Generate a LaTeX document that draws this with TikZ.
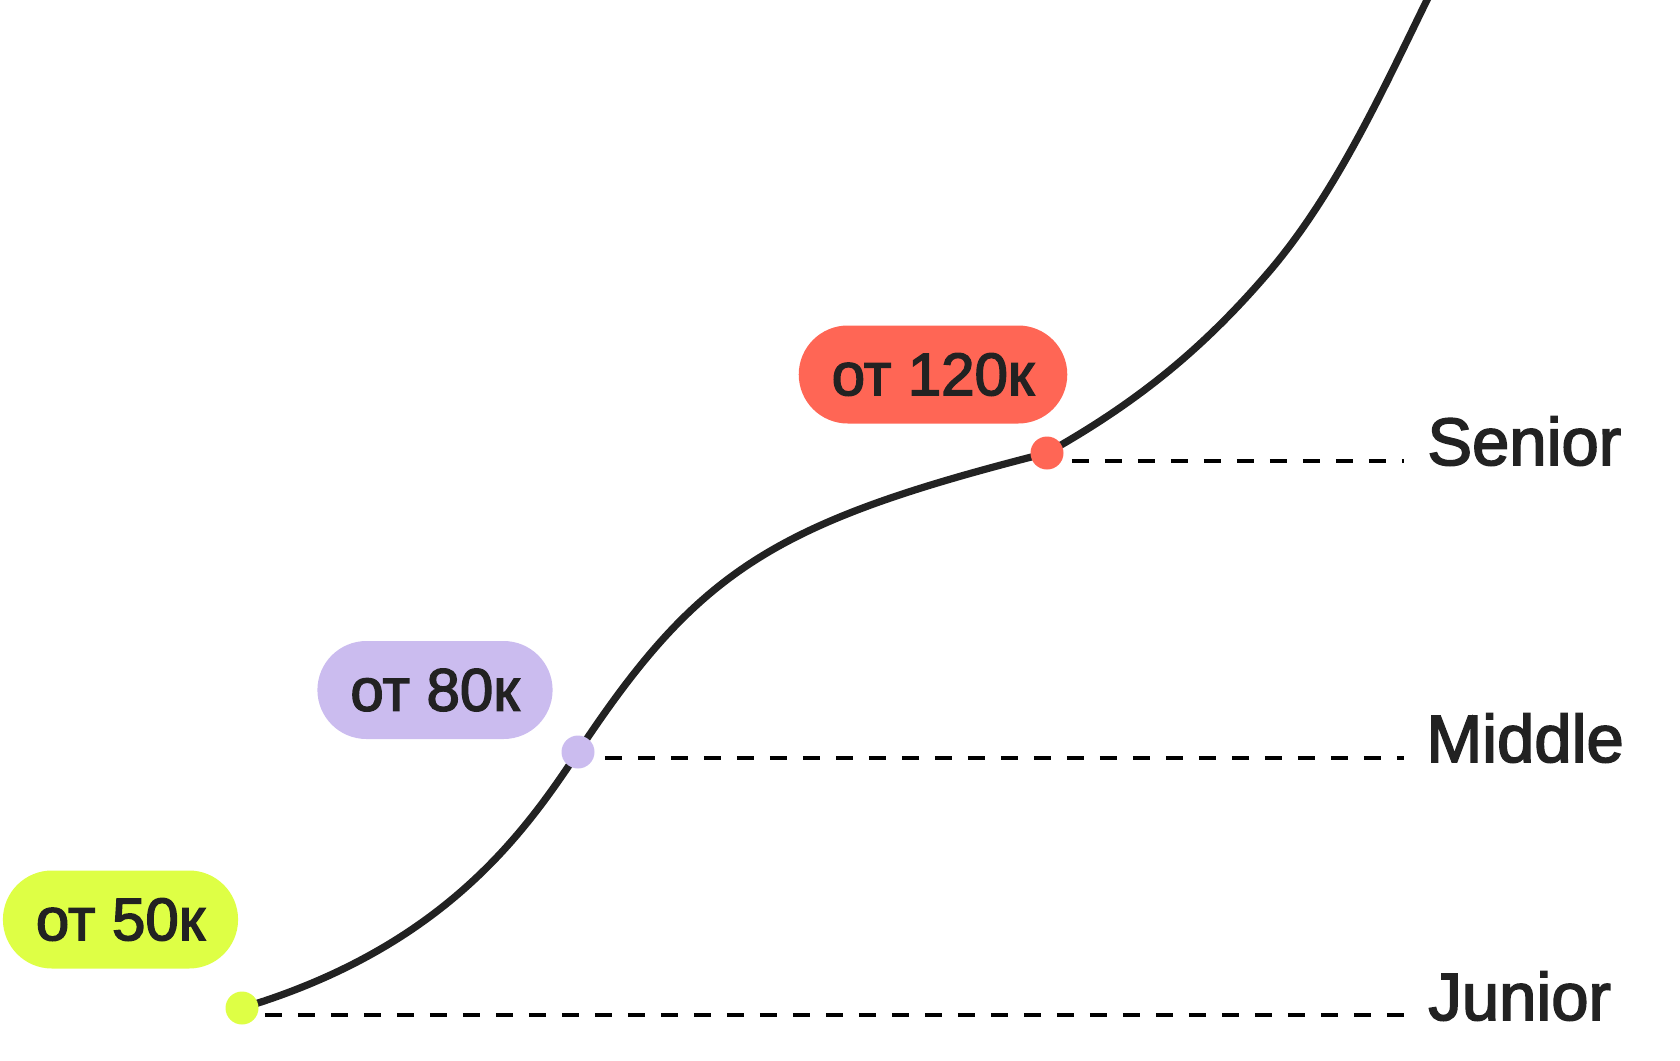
\documentclass[tikz,border=0pt]{standalone}
\usepackage{fontspec}
\setmainfont{Liberation Sans}[RawFeature={embolden=2.5}]
\usepackage{xcolor}
\definecolor{ink}{HTML}{222222}
\definecolor{lime}{HTML}{DEFF45}
\definecolor{lavender}{HTML}{CBBCEF}
\definecolor{coral}{HTML}{FF6655}

\begin{document}
\begin{tikzpicture}[x=0.5pt, y=-0.5pt,
  paytag/.style={rectangle, rounded corners=24.5pt, minimum height=49pt,
    inner xsep=16.5pt, inner ysep=0pt, text=ink, font=\fontsize{30}{30}\selectfont},
  stagedot/.style={circle, minimum size=16.5pt, inner sep=0pt},
  gradelabel/.style={anchor=base west, inner sep=0pt, text=ink,
    font=\fontsize{33.5}{33.5}\selectfont},
  levelline/.style={dash pattern=on 8.5pt off 8pt, line width=1.65pt, black}]
  \useasboundingbox (0,0) rectangle (1680,1060);

  % Zarplaty
  \node[paytag, fill=lime] (jtag) at (120.5,919.5) {от 50к};
  \node[paytag, fill=lavender] (mtag) at (435,690) {от 80к};
  \node[paytag, fill=coral] (stag) at (933,374.5) {от 120к};

  % Krivaya rosta
  \coordinate (j) at (242,1008);
  \coordinate (m) at (578,752);
  \coordinate (s) at (1047,453);
  \coordinate (q) at (1273,267);
  \coordinate (top) at (1426,2);
  \begin{scope}
    \clip (0,0) rectangle (1680,1060);
    \draw[line width=3.6pt, ink] (j) .. controls (442,948) and (523,835) .. (m)
      .. controls (699,569) and (775,522) .. (s)
      .. controls (1138,402) and (1205.5,347) .. (q)
      .. controls (1337,190) and (1382,92) .. (top) -- ++(9,-18);
  \end{scope}

  % Tochki
  \node[stagedot, fill=lime] (jdot) at (j) {};
  \node[stagedot, fill=lavender] (mdot) at (m) {};
  \node[stagedot, fill=coral] (sdot) at (s) {};

  % Urovni
  \node[gradelabel] (jlab) at (1428,1020) {Junior};
  \node[gradelabel] (mlab) at (1426,762) {Middle};
  \node[gradelabel] (slab) at (1427,465) {Senior};

  \draw[levelline] (jdot.east |- jlab.base) ++(6,-5) -- ([shift={(-24,-5)}]jlab.base west);
  \draw[levelline] (mdot.east |- mlab.base) ++(10,-4) -- ([shift={(-22,-4)}]mlab.base west);
  \draw[levelline] (sdot.east |- slab.base) ++(8,-4) -- ([shift={(-23,-4)}]slab.base west);
\end{tikzpicture}
\end{document}
